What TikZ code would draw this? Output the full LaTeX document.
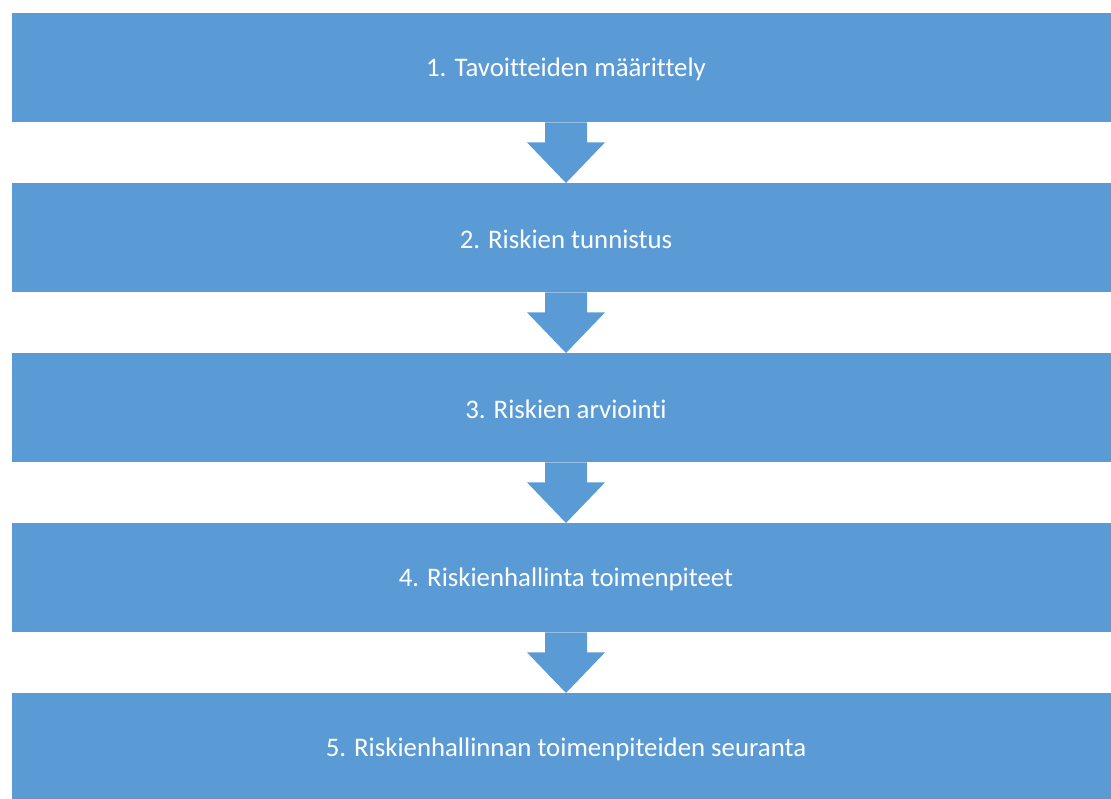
\documentclass[tikz,border=0pt]{standalone}
\usepackage{fontspec}
\setmainfont[Ligatures=NoCommon]{Carlito}
\definecolor{boxblue}{HTML}{5B9BD5}
\begin{document}
\begin{tikzpicture}[x=1pt,y=-1pt,
  stepbox/.style={fill=boxblue,draw=none,minimum width=1099pt,minimum height=109pt,inner sep=0pt,anchor=north west},
  steptext/.style={text=white,font=\fontsize{26.8}{30}\selectfont,inner sep=0pt},
  blockarrow/.style={fill=boxblue,draw=none}]
\useasboundingbox (0,0) rectangle (1111,798);
\foreach \i/\y/\t in {1/13/{1. Tavoitteiden määrittely},2/183/{2. Riskien tunnistus},3/353/{3. Riskien arviointi},4/523/{4. Riskienhallinta toimenpiteet},5/693/{5. Riskienhallinnan toimenpiteiden seuranta}}{
  \node[stepbox] (b\i) at (12,\y) {};
  \node[steptext] (t\i) at (566,\y+56.5) {\t};
}
\foreach \i/\j in {1/2,2/3,3/4,4/5}{
  \coordinate (s\i) at (b\i.south -| t\i);
  \fill[blockarrow] ([xshift=-21pt]s\i) -- ([xshift=-21pt,yshift=-20pt]s\i) -- ([xshift=-39pt,yshift=-20pt]s\i)
     -- (b\j.north -| t\i) -- ([xshift=39pt,yshift=-20pt]s\i) -- ([xshift=21pt,yshift=-20pt]s\i) -- ([xshift=21pt]s\i) -- cycle;
}
\end{tikzpicture}
\end{document}
